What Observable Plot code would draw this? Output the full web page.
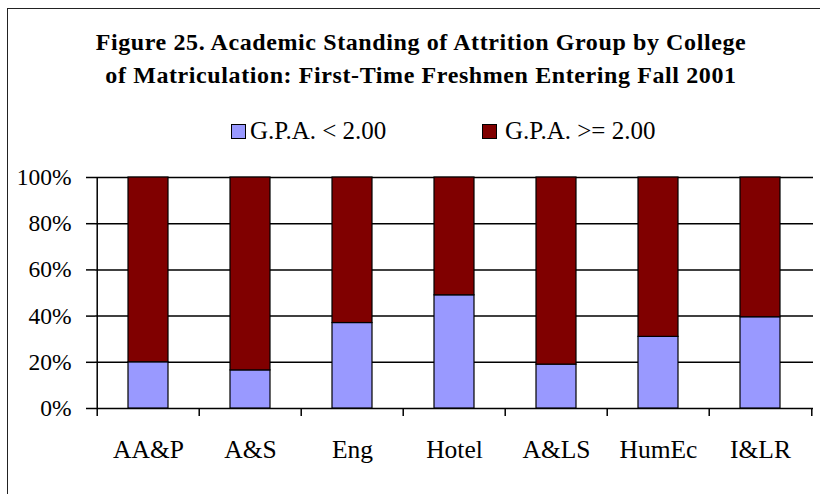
<!DOCTYPE html>
<html>
<head>
<meta charset="utf-8">
<script src="https://cdn.jsdelivr.net/npm/d3@7"></script>
<script src="https://cdn.jsdelivr.net/npm/@observablehq/plot@0.6"></script>
<style>
  body { margin: 0; background: #fff; font-family: "Liberation Serif", "Times New Roman", serif; color: #000; }
  #wrap { position: relative; width: 820px; height: 494px; overflow: hidden; background: #fff; }
  #frame { position: absolute; left: 7px; top: 8px; width: 900px; height: 600px;
           border-left: 1.5px solid #222; border-top: 1.5px solid #222; pointer-events: none; }
  #head { position: relative; height: 160px; }
  #title { position: absolute; left: 0; width: 842px; top: 25.5px; text-align: center;
           font-weight: bold; font-size: 24px; line-height: 33px; letter-spacing: 0.6px; white-space: nowrap; }
  .sw { position: absolute; top: 124px; width: 13px; height: 13px; border: 1px solid #000; }
  .lt { position: absolute; top: 118px; font-size: 25px; line-height: 25px; white-space: nowrap; }
  #chart { position: relative; }
</style>
</head>
<body>
<div id="wrap">
  <div id="frame"></div>
  <div id="head">
    <div id="title"></div>
    <div id="legend"></div>
  </div>
  <div id="chart"></div>
</div>
<script>
// ---- data ----
const titleLines = [
  "Figure 25. Academic Standing of Attrition Group by College",
  "of Matriculation: First-Time Freshmen Entering Fall 2001"
];
const colleges = ["AA&P", "A&S", "Eng", "Hotel", "A&LS", "HumEc", "I&LR"];
const seriesNames = ["G.P.A. < 2.00", "G.P.A. >= 2.00"];
const seriesColors = ["#9999FF", "#800000"];
const lowGpa  = [20, 16.5, 37, 49, 19, 31, 39.5];
const highGpa = [80, 83.5, 63, 51, 81, 69, 60.5];
const yTicks = [0, 20, 40, 60, 80, 100];

// ---- header ----
document.getElementById("title").innerHTML = titleLines.map(t => t.replace(/&/g, "&amp;").replace(/</g, "&lt;")).join("<br>");
const legend = document.getElementById("legend");
const legendX = [[231, 250], [482, 505]];
seriesNames.forEach((name, i) => {
  const sw = document.createElement("div");
  sw.className = "sw";
  sw.style.left = legendX[i][0] + "px";
  sw.style.background = seriesColors[i];
  legend.appendChild(sw);
  const t = document.createElement("div");
  t.className = "lt";
  t.style.left = legendX[i][1] + "px";
  t.textContent = name;
  legend.appendChild(t);
});

// ---- chart ----
const data = [];
colleges.forEach((c, i) => {
  data.push({college: c, group: seriesNames[0], value: lowGpa[i]});
  data.push({college: c, group: seriesNames[1], value: highGpa[i]});
});

const W = 820, H = 334, ML = 95, MR = 7, MT = 17, MB = 86;
const step = (W - ML - MR) / colleges.length;
const last = colleges[colleges.length - 1];

const plot = Plot.plot({
  width: W, height: H,
  marginLeft: ML, marginRight: MR, marginTop: MT, marginBottom: MB,
  style: { fontFamily: "'Liberation Serif', 'Times New Roman', serif", color: "#000", background: "transparent" },
  x: { domain: colleges, paddingInner: 0.61, paddingOuter: 0.305 },
  y: { domain: [0, 100] },
  color: { domain: seriesNames, range: seriesColors },
  marks: [
    Plot.ruleY(yTicks, { stroke: "#000", strokeWidth: 1.5 }),
    // category boundary ticks below axis
    Plot.ruleX(colleges, { x: d => d, y1: 0, y2: 0, dx: -step / 2, insetBottom: -8, stroke: "#000", strokeWidth: 1.5 }),
    Plot.ruleX([last], { x: d => d, y1: 0, y2: 0, dx: step / 2, insetBottom: -8, stroke: "#000", strokeWidth: 1.5 }),
    // y axis line
    Plot.ruleX([colleges[0]], { x: d => d, y1: 0, y2: 100, dx: -step / 2, stroke: "#000", strokeWidth: 1.5 }),
    Plot.barY(data, { x: "college", y: "value", fill: "group", stroke: "#000", strokeWidth: 1.2, order: seriesNames }),
    Plot.axisY({ ticks: yTicks, tickFormat: d => d + "%", tickSize: 9, tickPadding: 15, fontSize: 23.5, label: null, stroke: "#000", strokeWidth: 1.5 }),
    Plot.axisX({ tickSize: 0, tickPadding: 31, fontSize: 25.5, label: null })
  ]
});
document.getElementById("chart").appendChild(plot);
</script>
</body>
</html>
